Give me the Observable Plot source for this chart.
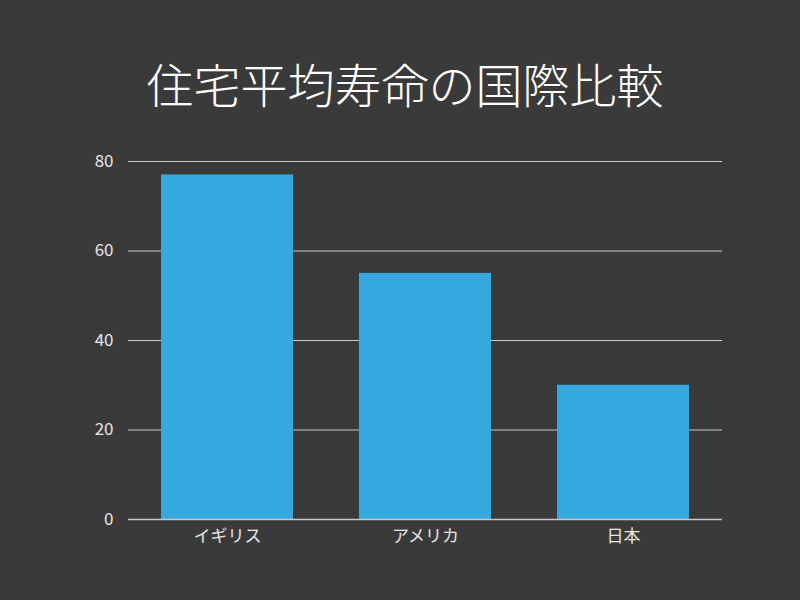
<!DOCTYPE html>
<html><head><meta charset="utf-8">
<script src="https://cdn.jsdelivr.net/npm/d3@7"></script>
<script src="https://cdn.jsdelivr.net/npm/@observablehq/plot@0.6"></script>
<style>
html,body{margin:0;padding:0;background:#3a3a3a;width:800px;height:600px;overflow:hidden;}
#title{height:130px;display:flex;align-items:center;justify-content:center;padding-top:46px;padding-left:10px;box-sizing:border-box;
 color:#ffffff;font-family:"Noto Sans CJK JP",sans-serif;font-size:47px;font-weight:300;line-height:1;}
#title span{position:relative;top:-6px;}
#chart svg{display:block;}
</style></head><body>
<div id="title"><span>住宅平均寿命の国際比較</span></div>
<div id="chart"></div>
<script>
const countries = ["イギリス","アメリカ","日本"];
const lifespans = [77, 55, 30];
const yTicks = [0, 20, 40, 60, 80];

const data = countries.map((c, i) => ({country: c, years: lifespans[i]}));

const chart = Plot.plot({
  width: 800,
  height: 470,
  marginTop: 31,
  marginBottom: 81,
  marginLeft: 128,
  marginRight: 78,
  style: {background: "transparent", color: "#e6e6e6", fontFamily: "'Noto Sans CJK JP', sans-serif", fontSize: "17px"},
  x: {domain: countries, paddingInner: 1/3, paddingOuter: 1/6, label: null, tickSize: 0, tickPadding: 10},
  y: {domain: [0, 80], ticks: yTicks, label: null, tickSize: 0, tickPadding: 15},
  marks: [
    Plot.ruleY(yTicks, {stroke: "#c8c8c8", strokeWidth: 1, strokeOpacity: 1}),
    Plot.barY(data, {x: "country", y: "years", fill: "#35a8de"}),
    Plot.ruleY([0], {stroke: "#c8c8c8", strokeWidth: 1.5})
  ]
});
document.getElementById("chart").appendChild(chart);
</script>
</body></html>
